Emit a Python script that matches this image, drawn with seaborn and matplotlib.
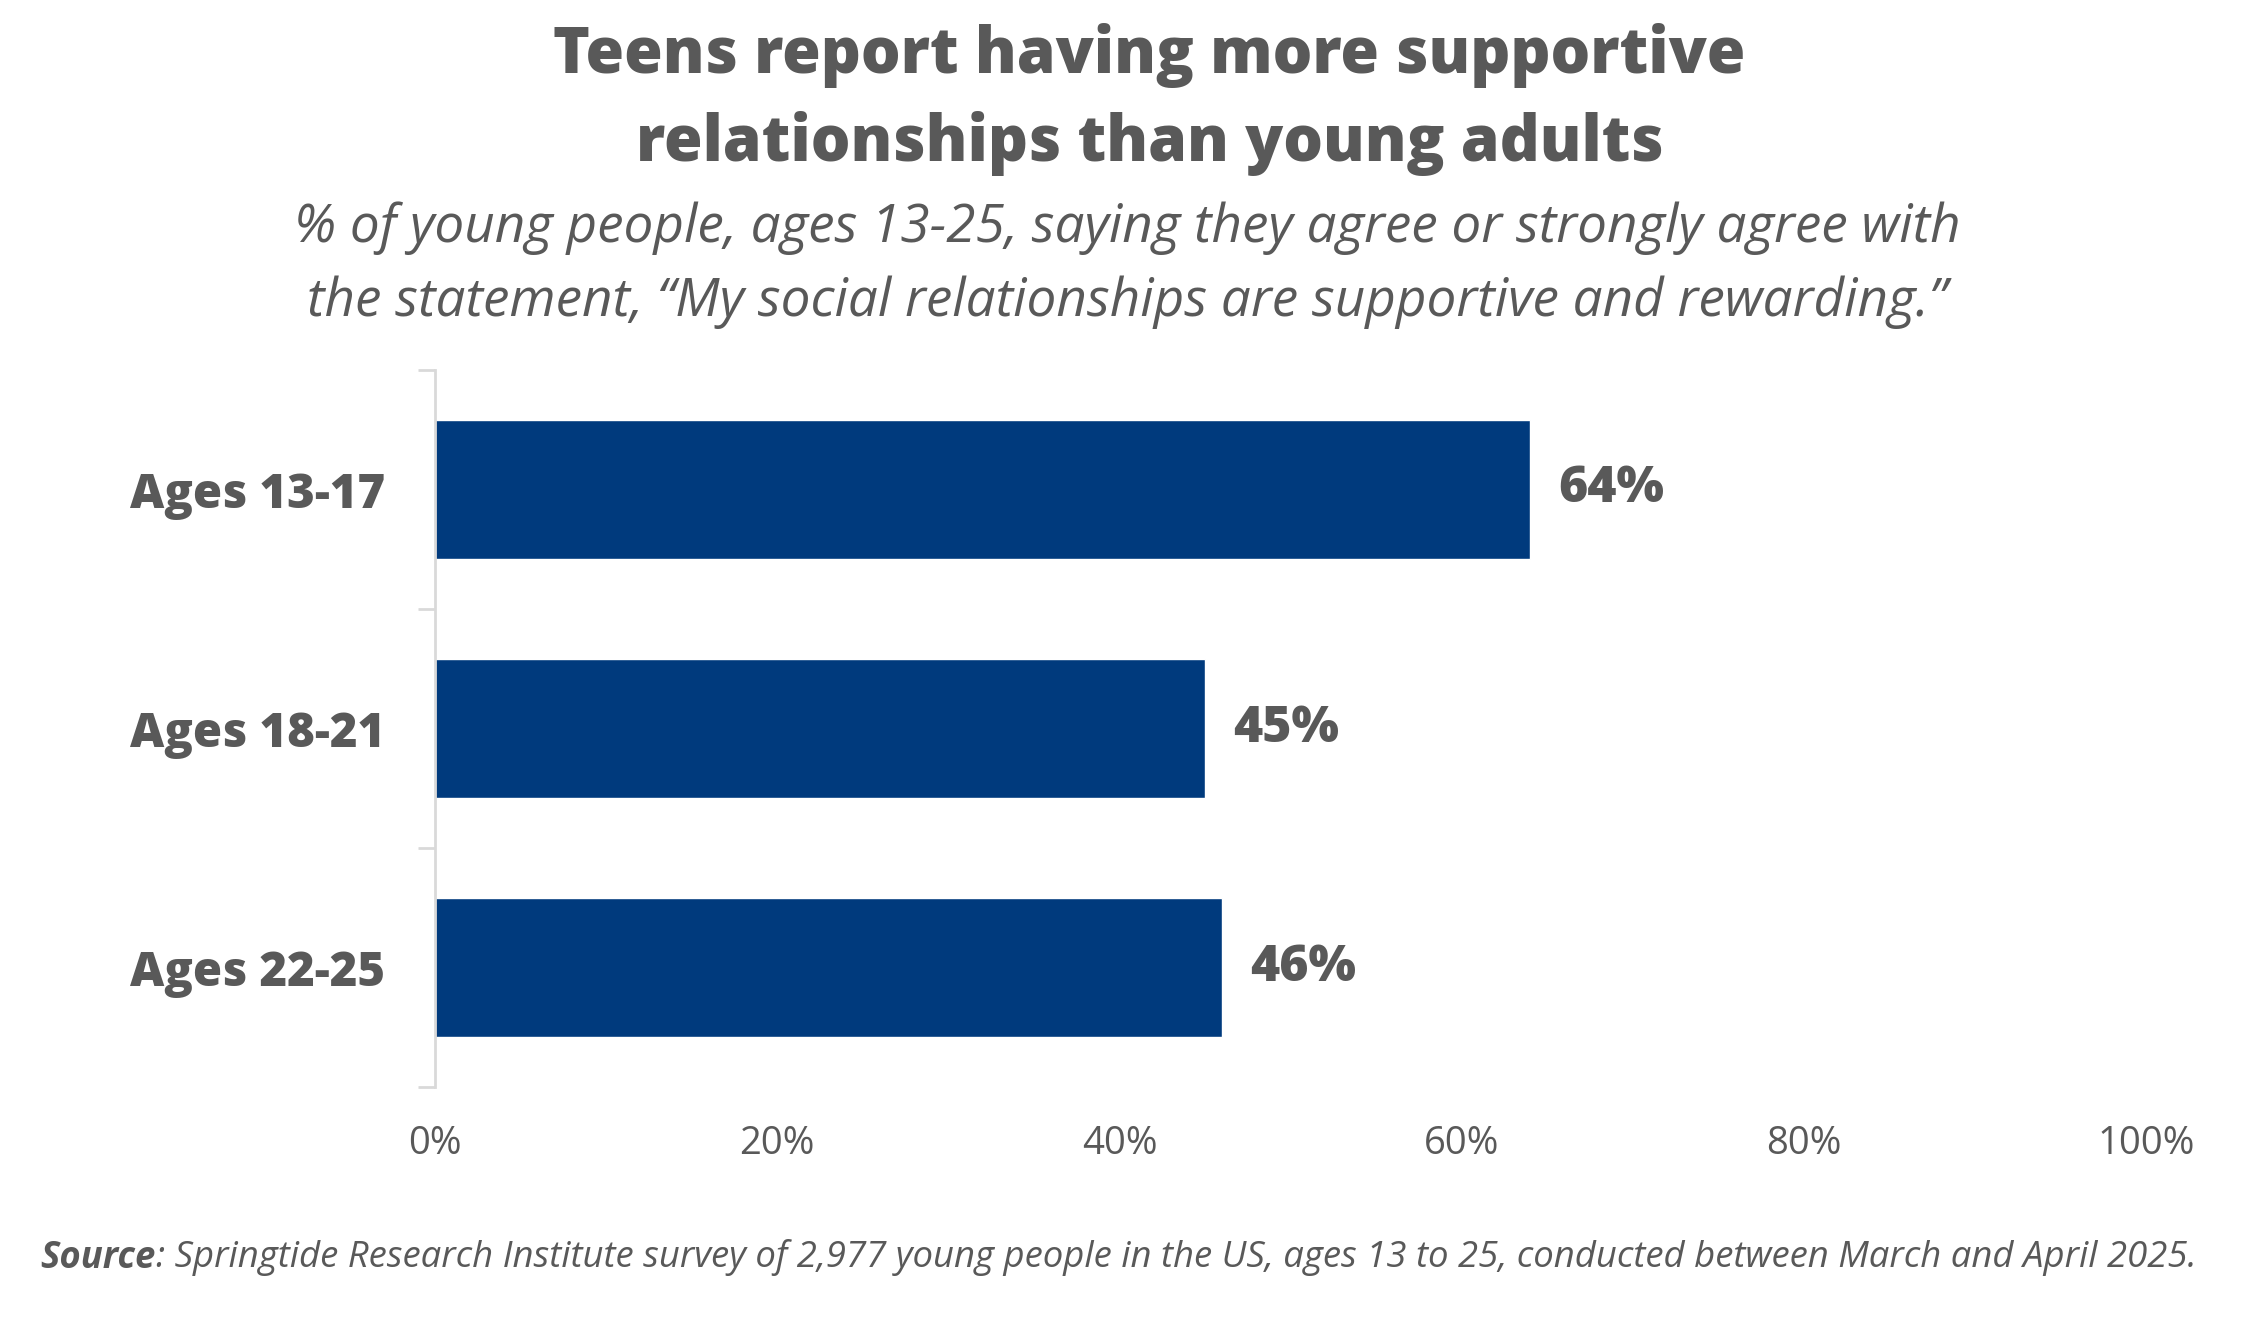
import matplotlib
matplotlib.use("Agg")
import matplotlib.pyplot as plt
import seaborn as sns
import pandas as pd

# data
groups = ["Ages 13-17", "Ages 18-21", "Ages 22-25"]
agree_pct = [64, 45, 46]
x_ticks = [0, 20, 40, 60, 80, 100]

TEXT = "#595959"
BAR = "#003a7d"
FONT = "Open Sans"
HEAVY = 800

sns.set_style("white")
plt.rcParams['font.family'] = [FONT, 'DejaVu Sans']

df = pd.DataFrame({"group": groups, "pct": agree_pct})

fig = plt.figure(figsize=(22.45, 13.2), dpi=100)
ax = fig.add_axes([0.1938, 0.1765, 0.9559 - 0.1938, 0.7197 - 0.1765])

sns.barplot(data=df, x="pct", y="group", color=BAR, width=0.58,
            saturation=1, ax=ax, orient="h")

ax.set_xlim(0, 100)
ax.set_ylim(2.5, -0.5)
ax.set_xticks(x_ticks)
ax.set_xticklabels([f"{t}%" for t in x_ticks], fontsize=27.5, color=TEXT)
ax.tick_params(axis='x', length=0, pad=27)
ax.set_yticks(range(len(groups)))
ax.set_yticklabels(groups, fontsize=34, fontweight=HEAVY, color=TEXT)
# light boundary ticks between categories
ax.set_yticks([-0.5, 0.5, 1.5, 2.5], minor=True)
ax.tick_params(axis='y', which='major', left=False, length=0, pad=36)
ax.tick_params(axis='y', which='minor', left=True, length=12, width=2,
               color="#d9d9d9")
ax.set_xlabel("")
ax.set_ylabel("")
for side in ["top", "right", "bottom"]:
    ax.spines[side].set_visible(False)
ax.spines["left"].set_color("#d9d9d9")
ax.spines["left"].set_linewidth(2)
ax.grid(False)

for i, v in enumerate(agree_pct):
    ax.annotate(f"{v}%", xy=(v, i), xytext=(20, 0), textcoords="offset points",
                ha="left", va="center", fontsize=36, fontweight=HEAVY, color=TEXT)

fig.text(0.512, 1 - 55 / 1320, "Teens report having more supportive",
         ha="center", va="center", fontsize=45, fontweight=HEAVY, color=TEXT)
fig.text(0.512, 1 - 144 / 1320, "relationships than young adults",
         ha="center", va="center", fontsize=45, fontweight=HEAVY, color=TEXT)
fig.text(0.502, 1 - 228 / 1320,
         "% of young people, ages 13-25, saying they agree or strongly agree with",
         ha="center", va="center", fontsize=38.2, style="italic", color=TEXT)
fig.text(0.502, 1 - 302 / 1320,
         "the statement, \u201cMy social relationships are supportive and rewarding.\u201d",
         ha="center", va="center", fontsize=38.2, style="italic", color=TEXT)

src = fig.text(0.018, 0.047, "Source", ha="left", va="center", fontsize=26.3,
               style="italic", fontweight="bold", color=TEXT)
fig.canvas.draw()
bb = src.get_window_extent()
fig.text(bb.x1 / fig.bbox.width, 0.047,
         ": Springtide Research Institute survey of 2,977 young people in the US, "
         "ages 13 to 25, conducted between March and April 2025.",
         ha="left", va="center", fontsize=26.3, style="italic", color=TEXT)

fig.savefig("out.png", dpi=100, facecolor="white")
